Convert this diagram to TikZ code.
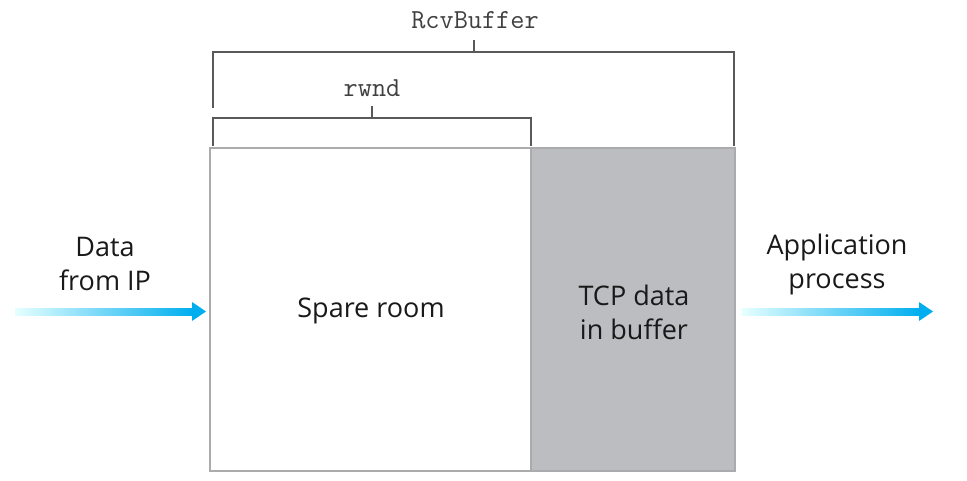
\documentclass[tikz,border=0pt]{standalone}
\usepackage{fontspec}
\setmainfont{Open Sans}
\begin{document}
\begin{tikzpicture}[x=1pt,y=-1pt,
  lbl/.style={font=\fontsize{27}{34}\selectfont, align=center, text=black!90, inner sep=0pt},
  mono/.style={font=\ttfamily\fontsize{27.5}{30}\selectfont, text=black!75, inner sep=0pt},
  brk/.style={draw=black!65, line width=1.5pt},
  shaft/.style={left color=cyan!10!white, right color=arrowblue},
  headfill/.style={fill=arrowblue, draw=none}]
\definecolor{arrowblue}{HTML}{00AEEF}
\definecolor{bufgray}{HTML}{BCBDC0}
\definecolor{edgegray}{HTML}{ABABAD}
\useasboundingbox (0,0) rectangle (967,481);
% buffer
\fill[bufgray] (531,148) rectangle (735,471);
\draw[edgegray, line width=2.5pt] (531,148) -- (735,148) -- (735,471) -- (531,471);
\draw[edgegray, line width=2.5pt, fill=white] (210,148) rectangle (531,471);
\node[lbl] (spare) at (371,311) {Spare room};
\node[lbl] (tcp) at (634,312) {TCP data\\in buffer};
% RcvBuffer bracket
\draw[brk] (213,108) -- (213,52) -- (734,52) -- (734,146);
\node[mono] (rcv) at (475,20) {RcvBuffer};
\draw[brk] (474,52) -- (474,40);
% rwnd bracket
\draw[brk] (213,146) -- (213,118) -- (531,118) -- (531,146);
\node[mono] (rwnd) at (372,88) {rwnd};
\draw[brk] (372,118) -- (372,106);
% left arrow
\node[lbl] (din) at (105,264) {Data\\from IP};
\coordinate (la) at (15,308);
\coordinate (lb) at (193,315);
\shade[shaft] (la) rectangle (lb);
\filldraw[headfill] (192,302) -- (206,311.5) -- (192,321) -- cycle;
% right arrow
\node[lbl] (app) at (837,264) {Application\\process};
\coordinate (ra) at (742,308);
\coordinate (rb) at (920,315);
\shade[shaft] (ra) rectangle (rb);
\filldraw[headfill] (919,302) -- (933,311.5) -- (919,321) -- cycle;
\end{tikzpicture}
\end{document}
